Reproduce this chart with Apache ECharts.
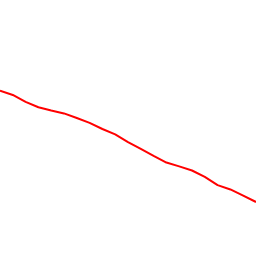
<!DOCTYPE html>
<html><head><meta charset="utf-8">
<script src="https://cdn.jsdelivr.net/npm/echarts@6/dist/echarts.min.js"></script>
<style>html,body{margin:0;padding:0;background:#fff}#c{width:256px;height:256px}</style>
</head><body><div id="c"></div>
<script>
var categories = ['1','2','3','4','5','6','7','8','9','10','11','12','13','14','15','16','17','18','19','20','21'];
var values = [64.6,62.9,60.2,58.1,56.8,55.7,53.9,52.0,49.6,47.5,44.5,41.8,39.1,36.5,35.0,33.4,30.9,27.7,26.0,23.6,21.1];
var chart = echarts.init(document.getElementById('c'), null, {renderer:'canvas'});
chart.setOption({
  animation:false,
  grid:{left:0,right:0,top:0,bottom:0},
  xAxis:{type:'category',data:categories,boundaryGap:false,show:false},
  yAxis:{type:'value',min:0,max:100,show:false},
  series:[{type:'line',data:values,showSymbol:false,lineStyle:{color:'#ff0000',width:2}}]
});
</script></body></html>
